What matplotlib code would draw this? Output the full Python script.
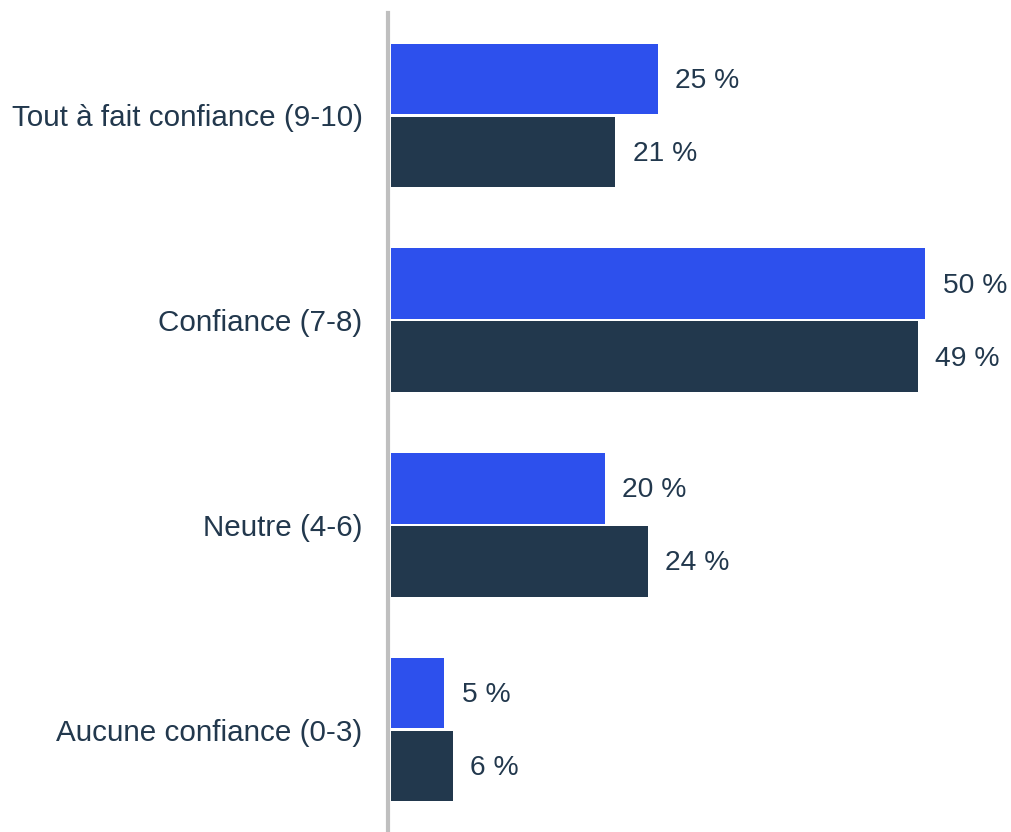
import numpy as np
import matplotlib
matplotlib.use("Agg")
from matplotlib import pyplot as plt

categories = ["Tout à fait confiance (9-10)", "Confiance (7-8)", "Neutre (4-6)", "Aucune confiance (0-3)"]
serie_a = [25, 50, 20, 5]   # blue
serie_b = [21, 49.3, 24, 5.8]  # dark
labels_a = ["25 %", "50 %", "20 %", "5 %"]
labels_b = ["21 %", "49 %", "24 %", "6 %"]

blue = "#2D50ED"
dark = "#22384D"
txt = "#22384D"

plt.rcParams["font.family"] = ["Liberation Sans", "DejaVu Sans"]

fig = plt.figure(figsize=(10.11, 8.32), dpi=100)
ax = fig.add_axes([391 / 1011, 0, 620 / 1011, 819 / 832])

y = np.arange(len(categories))
h = 0.345
off = 0.178
ax.barh(y - off, serie_a, height=h, color=blue)
ax.barh(y + off, serie_b, height=h, color=dark)

for i in range(len(categories)):
    ax.text(serie_a[i] + 1.6, y[i] - off + 0.01, labels_a[i], va="center", ha="left", fontsize=20.3, color=txt)
    ax.text(serie_b[i] + 1.6, y[i] + off + 0.01, labels_b[i], va="center", ha="left", fontsize=20.3, color=txt)

ax.set_ylim(len(categories) - 0.5, -0.5)
ax.set_xlim(0, 58)
ax.set_yticks(y)
ax.set_yticklabels(categories)
ax.tick_params(axis="y", length=0, pad=18.5, labelsize=21.3, labelcolor=txt)
ax.set_xticks([])
for s in ["top", "right", "bottom"]:
    ax.spines[s].set_visible(False)
ax.spines["left"].set_color("#BFBFBF")
ax.spines["left"].set_linewidth(3)
ax.spines["left"].set_position(("outward", 2))

fig.savefig("out.png", dpi=100)
